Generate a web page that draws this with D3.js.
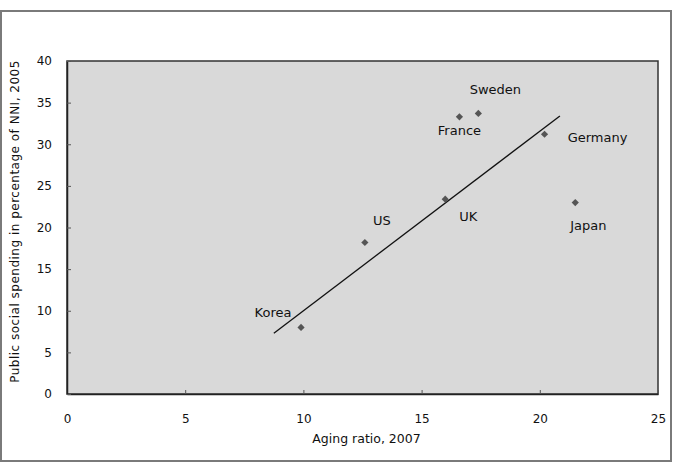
<!DOCTYPE html>
<html>
<head>
<meta charset="utf-8">
<script src="https://cdn.jsdelivr.net/npm/d3@7"></script>
<style>
  body { margin: 0; background: #fff; }
  svg text { font-family: "DejaVu Sans", sans-serif; fill: #111; }
</style>
</head>
<body>
<div id="chart"></div>
<script>
// countries and their values
const countries = ['Korea', 'US', 'UK', 'France', 'Sweden', 'Germany', 'Japan'];
const agingRatio = [9.9, 12.6, 16.0, 16.6, 17.4, 20.2, 21.5];
const socialSpending = [8.0, 18.2, 23.4, 33.3, 33.7, 31.2, 23.0];
// trend line ends, [x, y]
const trendLine = [[8.75, 7.3], [20.85, 33.4]];
const xTicks = [0, 5, 10, 15, 20, 25];
const yTicks = [0, 5, 10, 15, 20, 25, 30, 35, 40];

const width = 675;
const height = 463;
const plot = { left: 67, right: 658, top: 61, bottom: 394 };

const svg = d3.select('#chart').append('svg')
  .attr('width', width)
  .attr('height', height);

// outer frame
svg.append('rect')
  .attr('x', 1).attr('y', 11)
  .attr('width', 670).attr('height', 450)
  .attr('fill', '#fff')
  .attr('stroke', '#7a7a7a')
  .attr('stroke-width', 2);

const x = d3.scaleLinear().domain([0, 25]).range([plot.left, plot.right]);
const y = d3.scaleLinear().domain([0, 40]).range([plot.bottom, plot.top]);

// plot area
svg.append('rect')
  .attr('x', plot.left).attr('y', plot.top)
  .attr('width', plot.right - plot.left)
  .attr('height', plot.bottom - plot.top)
  .attr('fill', '#d9d9d9')
  .attr('stroke', '#333')
  .attr('stroke-width', 1.5);

// axes with inward ticks
const xAxis = svg.append('g')
  .attr('transform', `translate(0,${plot.bottom})`)
  .call(d3.axisBottom(x).tickValues(xTicks).tickSizeInner(-4).tickSizeOuter(0).tickPadding(20));
xAxis.select('.domain').attr('stroke', '#222').attr('stroke-width', 1.5);
xAxis.selectAll('.tick line').attr('stroke', '#555');
xAxis.selectAll('text').style('font-size', '12px').attr('fill', '#111');

const yAxis = svg.append('g')
  .attr('transform', `translate(${plot.left},0)`)
  .call(d3.axisLeft(y).tickValues(yTicks).tickSizeInner(-4).tickSizeOuter(0).tickPadding(15));
yAxis.select('.domain').attr('stroke', '#222').attr('stroke-width', 1.5);
yAxis.selectAll('.tick line').attr('stroke', '#555');
yAxis.selectAll('text').style('font-size', '12px').attr('fill', '#111');

// axis titles
svg.append('text')
  .attr('x', (plot.left + plot.right) / 2 + 4)
  .attr('y', 443)
  .attr('text-anchor', 'middle')
  .style('font-size', '12.5px')
  .text('Aging ratio, 2007');

svg.append('text')
  .attr('transform', `translate(19,${(plot.top + plot.bottom) / 2 - 6}) rotate(-90)`)
  .attr('text-anchor', 'middle')
  .style('font-size', '12px')
  .style('letter-spacing', '0.5px')
  .text('Public social spending in percentage of NNI, 2005');

// trend line
svg.append('path')
  .attr('d', d3.line().x(d => x(d[0])).y(d => y(d[1]))(trendLine))
  .attr('stroke', '#111')
  .attr('stroke-width', 1.3)
  .attr('fill', 'none');

// points
const points = countries.map((c, i) => ({ name: c, x: agingRatio[i], y: socialSpending[i] }));
const diamond = d3.symbol().type(d3.symbolSquare).size(26);

svg.append('g').selectAll('path')
  .data(points)
  .enter().append('path')
  .attr('d', diamond)
  .attr('transform', d => `translate(${x(d.x)},${y(d.y)}) rotate(45)`)
  .attr('fill', '#555');

// label placement relative to each point (pixels)
const labelOffset = {
  Korea: [-28, -10],
  US: [17, -17],
  UK: [23, 22],
  France: [0, 18],
  Sweden: [17, -19],
  Germany: [53, 8],
  Japan: [13, 27]
};

svg.append('g').selectAll('text')
  .data(points)
  .enter().append('text')
  .attr('x', d => x(d.x) + labelOffset[d.name][0])
  .attr('y', d => y(d.y) + labelOffset[d.name][1])
  .attr('text-anchor', 'middle')
  .style('font-size', '13px')
  .text(d => d.name);
</script>
</body>
</html>
